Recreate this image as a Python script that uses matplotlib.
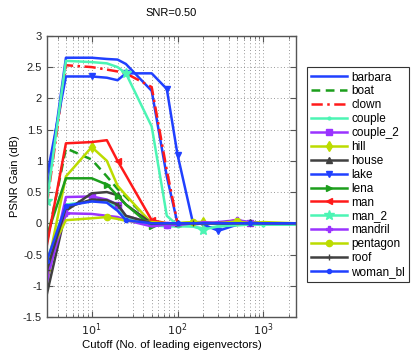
import matplotlib
matplotlib.use("Agg")
import matplotlib.pyplot as plt
from matplotlib.ticker import LogLocator, FixedLocator, NullFormatter

plt.rcParams['font.family'] = ['Liberation Sans', 'DejaVu Sans']

cutoff = [3, 5, 10, 15, 20, 25, 50, 75, 100, 150, 200, 300, 500, 700, 1000, 2400]

barbara  = [0.45, 2.65, 2.65, 2.63, 2.62, 2.55, 2.12, 0.75, 0.00, -0.02, 0.00, 0.00, 0.00, 0.00, 0.00, 0.00]
boat     = [-0.30, 1.20, 1.02, 0.75, 0.55, 0.42, 0.00, 0.00, -0.02, 0.00, 0.00, 0.00, 0.00, 0.00, 0.00, 0.00]
clown    = [0.30, 2.53, 2.50, 2.46, 2.43, 2.40, 2.18, 0.85, 0.00, 0.00, 0.00, 0.00, 0.02, 0.00, 0.00, 0.00]
couple   = [-0.60, 0.30, 0.35, 0.35, 0.25, 0.08, -0.03, -0.05, -0.05, -0.05, -0.08, -0.05, -0.03, -0.02, -0.02, -0.02]
couple_2 = [-0.95, 0.42, 0.43, 0.38, 0.30, 0.12, 0.00, -0.02, -0.03, 0.00, 0.00, 0.02, 0.05, 0.00, 0.00, 0.00]
hill     = [-0.75, 0.75, 1.22, 1.00, 0.60, 0.45, 0.00, 0.00, 0.00, 0.02, 0.02, 0.00, 0.02, 0.00, 0.00, 0.00]
house    = [-1.13, 0.20, 0.48, 0.50, 0.45, 0.30, 0.00, 0.00, 0.00, 0.00, 0.00, 0.00, 0.00, 0.02, 0.00, 0.00]
lake     = [0.75, 2.35, 2.35, 2.33, 2.29, 2.40, 2.40, 2.15, 1.10, 0.03, -0.02, -0.12, -0.02, 0.00, 0.00, 0.00]
lena     = [-0.20, 0.72, 0.72, 0.62, 0.44, 0.30, -0.05, 0.00, 0.00, 0.00, 0.00, 0.00, 0.03, 0.00, 0.00, 0.00]
man      = [-0.35, 1.28, 1.30, 1.33, 1.00, 0.77, 0.05, 0.00, 0.00, 0.00, 0.00, 0.00, 0.05, 0.00, 0.00, 0.00]
man_2    = [0.35, 2.60, 2.58, 2.56, 2.50, 2.40, 1.55, 0.12, -0.03, -0.05, -0.10, -0.05, -0.03, -0.02, -0.02, -0.02]
mandril  = [-0.85, 0.16, 0.15, 0.12, 0.10, 0.05, -0.05, -0.02, -0.03, 0.00, 0.02, 0.00, 0.05, 0.02, 0.00, 0.00]
pentagon = [-0.57, 0.05, 0.08, 0.10, 0.07, 0.04, 0.02, 0.00, 0.00, 0.02, 0.00, 0.00, 0.03, 0.00, 0.02, 0.00]
roof     = [-0.75, 0.25, 0.38, 0.37, 0.30, 0.12, 0.00, 0.00, 0.00, 0.00, 0.00, 0.00, 0.00, 0.00, 0.00, 0.00]
woman_bl = [-0.60, 0.28, 0.35, 0.33, 0.20, 0.05, 0.00, 0.00, 0.00, 0.00, 0.00, 0.00, 0.00, 0.00, 0.00, 0.00]

BLUE = '#2040ff'
GREEN = '#1c9e1c'
RED = '#ff1a1a'
MINT = '#4cf5b4'
PURPLE = '#9a33ff'
YGREEN = '#bcdc00'
GRAY = '#404040'

series = [
    ('barbara', barbara, BLUE, '-', None, None, 0),
    ('boat', boat, GREEN, (0, (3.5, 2.2)), None, None, 0),
    ('clown', clown, RED, (0, (4.5, 1.8, 1, 1.8)), None, None, 0),
    ('couple', couple, MINT, '-', '.', [1, 4, 8, 11, 14], 4),
    ('couple_2', couple_2, PURPLE, '-', 's', [2, 4, 7, 13], 4),
    ('hill', hill, YGREEN, '-', 'd', [0, 2, 10], 5),
    ('house', house, GRAY, '-', '^', [4, 8, 13], 5),
    ('lake', lake, BLUE, '-', 'v', [2, 5, 7, 8, 11], 5),
    ('lena', lena, GREEN, '-', '>', [3, 4, 6], 5),
    ('man', man, RED, '-', '<', [4, 6], 5),
    ('man_2', man_2, MINT, '-', '*', [0, 5, 10], 7),
    ('mandril', mandril, PURPLE, '-', 'P', [1, 7, 12], 4.5),
    ('pentagon', pentagon, YGREEN, '-', 'o', [0, 3, 9, 12], 4.5),
    ('roof', roof, GRAY, '-', '+', [0, 4, 9, 13], 4.5),
    ('woman_bl', woman_bl, BLUE, '-', '.', [0, 1, 5, 8, 13], 6),
]

fig = plt.figure(figsize=(4.15, 3.55), dpi=100)
ax = fig.add_axes([0.113, 0.107, 0.600, 0.792])

for name, vals, col, ls, mk, me, ms in series:
    kw = dict(color=col, linestyle=ls, linewidth=1.8, label=name)
    if mk is not None:
        kw.update(marker=mk, markevery=me, markersize=ms, markeredgecolor=col, markerfacecolor=col)
    ax.plot(cutoff, vals, **kw)

ax.set_xscale('log')
ax.set_xlim(3, 2400)
ax.set_ylim(-1.5, 3)
ax.set_yticks([-1.5, -1, -0.5, 0, 0.5, 1, 1.5, 2, 2.5, 3])
ax.set_yticklabels(['-1.5', '-1', '-0.5', '0', '0.5', '1', '1.5', '2', '2.5', '3'])
ax.xaxis.set_major_locator(FixedLocator([10, 100, 1000]))
ax.set_xticklabels([r'$10^1$', r'$10^2$', r'$10^3$'])
ax.xaxis.set_minor_locator(LogLocator(base=10, subs=range(2, 10), numticks=20))
ax.xaxis.set_minor_formatter(NullFormatter())

gridstyle = dict(linestyle=(0, (1, 3)), color='#777777', linewidth=0.6)
ax.grid(True, which='major', **gridstyle)
ax.grid(True, which='minor', axis='x', **gridstyle)
ax.tick_params(which='both', direction='in', top=True, right=True, labelsize=8, colors='#222222')
ax.tick_params(which='major', length=4, color='#555555')
ax.tick_params(which='minor', length=2, color='#555555')
for s in ax.spines.values():
    s.set_color('#555555')
    s.set_linewidth(1.0)

ax.set_title('SNR=0.50', fontsize=8, pad=14)
ax.set_xlabel('Cutoff (No. of leading eigenvectors)', fontsize=8.2, labelpad=1)
ax.set_ylabel('PSNR Gain (dB)', fontsize=8, labelpad=2)

leg = fig.legend(loc='upper left', bbox_to_anchor=(0.74, 0.81), fontsize=8.5,
                 frameon=True, fancybox=False, framealpha=1, edgecolor='#333333',
                 handlelength=3.0, handletextpad=0.4, labelspacing=0.16, borderpad=0.35,
                 borderaxespad=0)
leg.get_frame().set_linewidth(0.8)

fig.savefig('out.png', dpi=100)
